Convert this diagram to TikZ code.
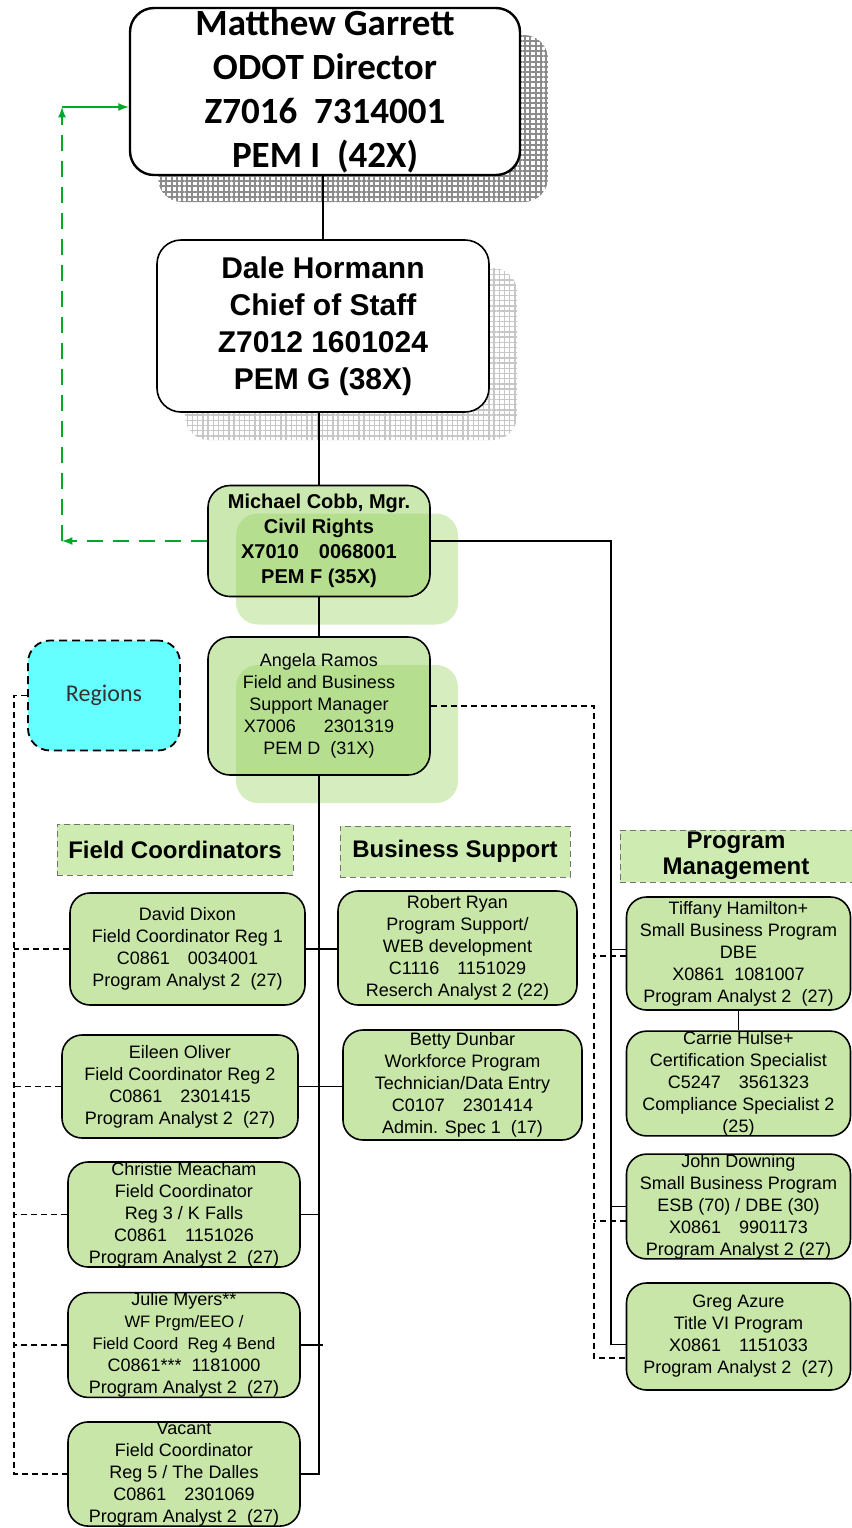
\documentclass[tikz,border=0pt]{standalone}
\usepackage{fontspec}
\setmainfont{Liberation Sans}
\newfontfamily\carlito{Carlito}
\usetikzlibrary{shadows,patterns.meta}

\definecolor{staffgreen}{RGB}{200,230,168}
\definecolor{headgreen}{RGB}{206,236,178}
\definecolor{mgrgreen}{RGB}{150,210,95}
\definecolor{regioncyan}{RGB}{102,255,255}
\definecolor{linkgreen}{RGB}{0,170,40}

\begin{document}
\begin{tikzpicture}[x=0.5pt, y=-0.5pt, >=latex]

\useasboundingbox (0,0) rectangle (852,1528);

% Define org chart styles
\tikzstyle{exec} = [rectangle, rounded corners=12pt, draw=black, fill=white, align=center, inner sep=0pt]
\tikzstyle{darkgrid} = [general shadow={shadow xshift=14pt, shadow yshift=-13.5pt, pattern={Hatch[distance=2.6pt, line width=1pt]}, pattern color=black!45}]
\tikzstyle{lightgrid} = [general shadow={shadow xshift=14pt, shadow yshift=-14pt, pattern={Hatch[distance=2.6pt, line width=0.7pt]}, pattern color=black!22}]
\tikzstyle{manager} = [rectangle, rounded corners=11pt, draw=black, line width=0.8pt, fill=mgrgreen, fill opacity=0.5, text opacity=1, align=center, inner sep=0pt, minimum width=111pt, general shadow={shadow xshift=14pt, shadow yshift=-14pt, fill=mgrgreen, fill opacity=0.4}]
\tikzstyle{staff} = [rectangle, rounded corners=10pt, draw=black, line width=0.8pt, fill=staffgreen, align=center, inner sep=0pt, font=\fontsize{9}{11}\selectfont]
\tikzstyle{header} = [rectangle, draw=black!55, densely dashed, fill=headgreen, align=center, inner sep=0pt, font=\bfseries\fontsize{12}{13}\selectfont, minimum height=25.5pt]
\tikzstyle{regionbox} = [rectangle, rounded corners=11pt, draw=black, line width=0.9pt, dash pattern=on 4pt off 2.5pt, fill=regioncyan, text=black!80, font=\carlito\fontsize{12}{14}\selectfont]
\tikzstyle{solidlink} = [draw=black, line width=0.9pt]
\tikzstyle{dashlink} = [draw=black, line width=0.8pt, dash pattern=on 3pt off 2pt]
\tikzstyle{greenlink} = [draw=linkgreen, line width=0.8pt, ->]

% Define nodes (executives)
\node[exec, darkgrid, line width=1.2pt, minimum width=195pt, minimum height=83.5pt, font=\carlito\bfseries\fontsize{18.5}{22}\selectfont] (director) at (325,91.5) {Matthew Garrett\\ODOT Director\\Z7016\ \ 7314001\\PEM I\ \ (42X)};
\node[exec, lightgrid, line width=0.8pt, minimum width=166pt, minimum height=86pt, font=\bfseries\fontsize{15}{18.5}\selectfont, node distance=117.25pt, below of=director, xshift=-1pt] (dale) {Dale Hormann\\Chief of Staff\\Z7012 1601024\\PEM G (38X)};

% Define managers
\node[manager, minimum height=55.5pt, font=\bfseries\fontsize{10}{12.5}\selectfont, node distance=107.5pt, below of=dale, xshift=-2pt] (michael) {Michael Cobb, Mgr.\\Civil Rights\\X7010\quad 0068001\\PEM F (35X)};
\node[manager, minimum height=69pt, font=\fontsize{9}{11}\selectfont, node distance=82.5pt, below of=michael] (angela) {Angela Ramos\\Field and Business\\Support Manager\\X7006\quad\ \ 2301319\\PEM D~~(31X)};
\node[regionbox, minimum width=76pt, minimum height=55pt, node distance=107.5pt, left of=angela, yshift=5.25pt] (regions) {Regions};

% Define group headers
\node[header, minimum width=118pt] (fieldHdr) at (175,849.5) {Field Coordinators};
\node[header, minimum width=115pt, node distance=140pt, right of=fieldHdr, yshift=-1pt] (busHdr) {Business Support};
\node[header, minimum width=116pt, minimum height=26pt, node distance=140.5pt, right of=busHdr, yshift=-2.25pt] (progHdr) {Program\\Management};

% Define field coordinators
\node[staff, minimum width=117.5pt, minimum height=56pt, node distance=49.75pt, below of=fieldHdr, xshift=6.25pt] (david) {David Dixon\\Field Coordinator Reg 1\\C0861\quad 0034001\\Program Analyst 2~~(27)};
\node[staff, minimum width=118pt, minimum height=51.5pt, node distance=68.75pt, below of=david, xshift=-3.75pt] (eileen) {Eileen Oliver\\Field Coordinator Reg 2\\C0861\quad 2301415\\Program Analyst 2~~(27)};
\node[staff, minimum width=116pt, minimum height=52.5pt, node distance=64pt, below of=eileen, xshift=2pt] (christie) {Christie Meacham\\Field Coordinator\\Reg 3 / K Falls\\C0861\quad 1151026\\Program Analyst 2~~(27)};
\node[staff, minimum width=116pt, minimum height=52pt, node distance=65.25pt, below of=christie] (julie) {Julie Myers**\\{\fontsize{8.3}{11}\selectfont WF Prgm/EEO /}\\{\fontsize{8.3}{11}\selectfont Field Coord~~Reg 4 Bend}\\C0861***~~1181000\\Program Analyst 2~~(27)};
\node[staff, minimum width=116pt, minimum height=52pt, node distance=64.5pt, below of=julie] (vacant) {Vacant\\Field Coordinator\\Reg 5 / The Dalles\\C0861\quad 2301069\\Program Analyst 2~~(27)};

% Define business support
\node[staff, minimum width=119.5pt, minimum height=57pt, node distance=48.25pt, below of=busHdr, xshift=1.25pt] (robert) {Robert Ryan\\Program Support/\\WEB development\\C1116\quad 1151029\\Reserch Analyst 2 (22)};
\node[staff, minimum width=119.5pt, minimum height=55pt, node distance=68.5pt, below of=robert, xshift=2.5pt] (betty) {Betty Dunbar\\Workforce Program\\Technician/Data Entry\\C0107\quad 2301414\\Admin. Spec 1~~(17)};

% Define program management
\node[staff, minimum width=112pt, minimum height=56.5pt, node distance=48.75pt, below of=progHdr, xshift=1.25pt] (tiffany) {Tiffany Hamilton+\\Small Business Program\\DBE\\X0861~~1081007\\Program Analyst 2~~(27)};
\node[staff, minimum width=112pt, minimum height=51.5pt, node distance=65pt, below of=tiffany] (carrie) {Carrie Hulse+\\Certification Specialist\\C5247\quad 3561323\\Compliance Specialist 2\\(25)};
\node[staff, minimum width=112pt, minimum height=51.5pt, node distance=61.5pt, below of=carrie] (john) {John Downing\\Small Business Program\\ESB (70) / DBE (30)\\X0861\quad 9901173\\Program Analyst 2 (27)};
\node[staff, minimum width=112pt, minimum height=53.5pt, node distance=65pt, below of=john] (greg) {Greg Azure\\Title VI Program\\X0861\quad 1151033\\Program Analyst 2~~(27)};

% Trunk points
\coordinate (pmTrunk) at (611,541);
\coordinate (pmDash) at (594,703);
\coordinate (regTrunk) at (14,696);
\coordinate (greenLow) at (62,541);
\coordinate (greenHigh) at (62,107);

% Relationships (solid)
\draw[solidlink] (dale.north |- director.south) -- (dale.north);
\draw[solidlink] (dale.south -| michael.north) -- (michael.north);
\draw[solidlink] (michael.south) -- (angela.north);
\draw[solidlink] (angela.south) |- (vacant.east);
\draw[solidlink] (david.east) -- (robert.west |- david.east);
\draw[solidlink] (eileen.east) -- (betty.west |- eileen.east);
\draw[solidlink] (christie.east) -- (christie.east -| angela.south);
\draw[solidlink] (julie.east) -- ([xshift=2pt]julie.east -| angela.south);

\draw[solidlink] (michael.east) -| ([yshift=-4pt]greg.west -| pmTrunk) -- ([yshift=-4pt]greg.west);
\draw[solidlink] ([yshift=2pt]tiffany.west) -- ([yshift=2pt]tiffany.west -| pmTrunk);
\draw[solidlink] (john.west) -- (john.west -| pmTrunk);
\draw[solidlink] (tiffany.south) -- (carrie.north);

% Relationships (dashed)
\draw[dashlink] (angela.east) -| ([yshift=-10.75pt]greg.west -| pmDash) -- ([yshift=-10.75pt]greg.west);
\draw[dashlink] ([yshift=-1.25pt]tiffany.west) -- ([yshift=-1.25pt]tiffany.west -| pmDash);
\draw[dashlink] ([yshift=-7.25pt]john.west) -- ([yshift=-7.25pt]john.west -| pmDash);

\draw[dashlink] (regions.west) -| (vacant.west -| regTrunk) -- (vacant.west);
\draw[dashlink] (david.west) -- (david.west -| regTrunk);
\draw[dashlink] (eileen.west) -- (eileen.west -| regTrunk);
\draw[dashlink] (christie.west) -- (christie.west -| regTrunk);
\draw[dashlink] (julie.west) -- (julie.west -| regTrunk);

% Reporting line to director
\draw[greenlink, dash pattern=on 8pt off 5pt] (michael.west) -- (greenLow);
\draw[greenlink, dash pattern=on 8pt off 5pt] (greenLow) -- (greenHigh);
\draw[greenlink] (greenHigh) -- (greenHigh -| director.west);

\end{tikzpicture}
\end{document}
